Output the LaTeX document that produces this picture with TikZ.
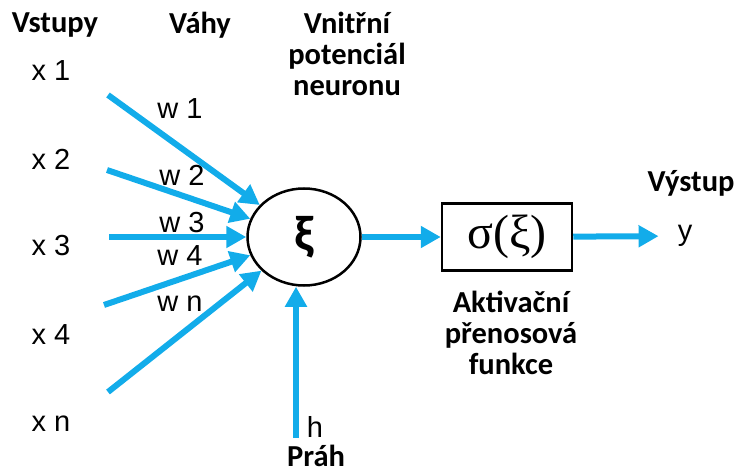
\documentclass[tikz,border=0pt]{standalone}
\usepackage{fontspec}
\setmainfont{Carlito}
\newfontfamily\arialfont{Liberation Sans}
\newfontfamily\timesfont{Liberation Serif}
\usepackage{xcolor}
\usetikzlibrary{shapes.geometric, arrows.meta, positioning}
\definecolor{synblue}{RGB}{18,172,234}
\tikzstyle{title} = [font=\bfseries\fontsize{30.5}{31}\selectfont, align=center, inner sep=0pt]
\tikzstyle{var} = [font=\arialfont\fontsize{29}{30}\selectfont, inner sep=2pt]
\tikzstyle{neuron} = [ellipse, minimum width=113pt, minimum height=97pt, inner sep=0pt, draw=black, line width=2.5pt]
\tikzstyle{block} = [rectangle, minimum width=130pt, minimum height=67pt, inner sep=0pt, draw=black, line width=2.5pt]
\tikzstyle{arrow} = [draw=synblue, line width=6pt, -{Triangle[length=20pt, width=21pt]}]

\begin{document}
\begin{tikzpicture}[x=1pt, y=-1pt]
        \useasboundingbox (0,0) rectangle (734,473);

        % titles
        \node (inputs) [title] at (55,25) {Vstupy};
        \node (weights) [title] at (200,25) {Váhy};
        \node (potential) [title] at (347,54) {Vnitřní\\potenciál\\neuronu};
        \node (output) [title] at (691,183) {Výstup};
        \node (act) [title] at (511,333) {Aktivační\\přenosová\\funkce};
        \node (threshold) [title] at (316,456) {Práh};

        % neuron and activation block
        \node (neuron) [neuron] at (304,237) {\bfseries\fontsize{50}{50}\selectfont ξ};
        \node (sigma) [block] at (507,237) {\timesfont\fontsize{48}{48}\selectfont σ(ξ)};
        \node (y) [var] at (685,236) {y};

        % inputs
        \node (x1) [var] at (51,71) {x 1};
        \node (x2) [var] at (51,159) {x 2};
        \node (x3) [var] at (51,246) {x 3};
        \node (x4) [var] at (51,335) {x 4};
        \node (xn) [var] at (51,424) {x n};

        % weights
        \node (w1) [var] at (180,109) {w 1};
        \node (w2) [var] at (182,175) {w 2};
        \node (w3) [var] at (182,223) {w 3};
        \node (w4) [var] at (180,256) {w 4};
        \node (wn) [var] at (180,304) {w n};
        \node (h) [var] at (315,427) {h};

        \coordinate (in1) at (108,95);
        \coordinate (in2) at (107,170);
        \coordinate (in3) at (109,237);
        \coordinate (in4) at (104,305);
        \coordinate (inn) at (108,392);
        \coordinate (inh) at (296,438);

        \draw [arrow] (in1) -- (neuron);
        \draw [arrow] (in2) -- (neuron);
        \draw [arrow] (in3) -- (neuron);
        \draw [arrow] (in4) -- (neuron);
        \draw [arrow] (inn) -- (neuron);
        \draw [arrow] (inh) -- (inh |- neuron.south);
        \draw [arrow] (neuron) -- (sigma);
        \draw [arrow, shorten >=17pt] (sigma) -- (y);
\end{tikzpicture}
\end{document}
